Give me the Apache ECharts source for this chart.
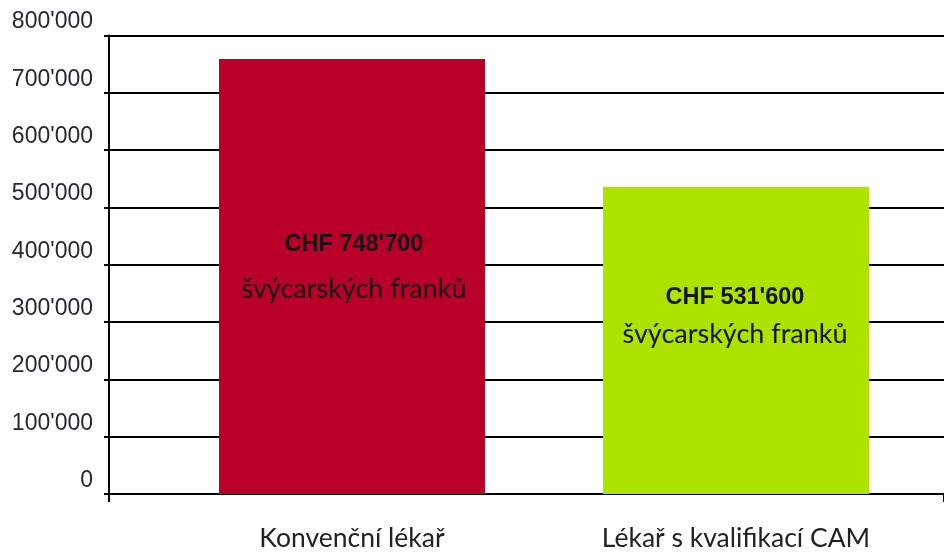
<!DOCTYPE html>
<html>
<head>
<meta charset="utf-8">
<script src="https://cdn.jsdelivr.net/npm/echarts@6/dist/echarts.min.js"></script>
<style>html,body{margin:0;padding:0;background:#fff}#c{width:944px;height:552px}</style>
</head>
<body>
<div id="c"></div>
<script>
// ---- data ----
const categories = ['Konvenční lékař', 'Lékař s kvalifikací CAM'];
const barValues = [759000, 536000];            // bar heights as drawn in the picture
const amountLabels = ["CHF 748'700", "CHF 531'600"];
const unitLabel = 'švýcarských franků';
const yTickLabels = ['0', "100'000", "200'000", "300'000", "400'000", "500'000", "600'000", "700'000", "800'000"];
const yMax = 800000, yStep = 100000;

// ---- styles ----
const barColors = ['#b90028', '#aee300'];
const labelOffsets = [[2, -9], [-1, -24]];
const lineGaps = [[44, 46], [36, 38]];

const chart = echarts.init(document.getElementById('c'), null, {renderer: 'canvas'});
const gridTop = 35.5, gridBottom = 58;

const barData = barValues.map((v, i) => ({
  value: v,
  itemStyle: {color: barColors[i]},
  label: {
    offset: labelOffsets[i],
    formatter: '{a|' + amountLabels[i] + '}\n{b|' + unitLabel + '}',
    rich: {
      a: {fontFamily: 'Arial, Liberation Sans', fontWeight: 'bold', fontSize: 23.5, color: '#151515', lineHeight: lineGaps[i][0]},
      b: {fontFamily: 'Lato', fontSize: 27, color: '#151515', lineHeight: lineGaps[i][1]}
    }
  }
}));

chart.setOption({
  animation: false,
  grid: [
    {left: 109, right: -20, top: gridTop, bottom: gridBottom},
    {left: 160, width: 768, top: gridTop, bottom: gridBottom}
  ],
  xAxis: [
    {type: 'category', gridIndex: 0, data: [''],
     axisLine: {show: true, lineStyle: {color: '#000', width: 2}},
     axisTick: {show: true, length: 8, lineStyle: {color: '#000', width: 2}},
     axisLabel: {show: false}},
    {type: 'category', gridIndex: 1, data: categories,
     axisLine: {show: false}, axisTick: {show: false},
     axisLabel: {margin: 31, fontFamily: 'Lato', fontSize: 26.5, color: '#222'}}
  ],
  yAxis: [
    {type: 'value', gridIndex: 0, min: 0, max: yMax, interval: yStep,
     axisLine: {show: true, lineStyle: {color: '#000', width: 2}},
     axisTick: {show: true, length: 5, lineStyle: {color: '#000', width: 2}},
     splitLine: {show: true, lineStyle: {color: '#000', width: 2}},
     axisLabel: {margin: 16, fontFamily: 'Arial, Liberation Sans', fontSize: 23, color: '#262636',
                 verticalAlign: 'bottom', lineHeight: 27,
                 formatter: v => yTickLabels[Math.round(v / yStep)]}},
    {type: 'value', gridIndex: 1, min: 0, max: yMax, interval: yStep, show: false}
  ],
  series: [{
    type: 'bar', xAxisIndex: 1, yAxisIndex: 1,
    barWidth: 266,
    data: barData,
    label: {show: true, position: 'inside', align: 'center'}
  }]
});
</script>
</body>
</html>
